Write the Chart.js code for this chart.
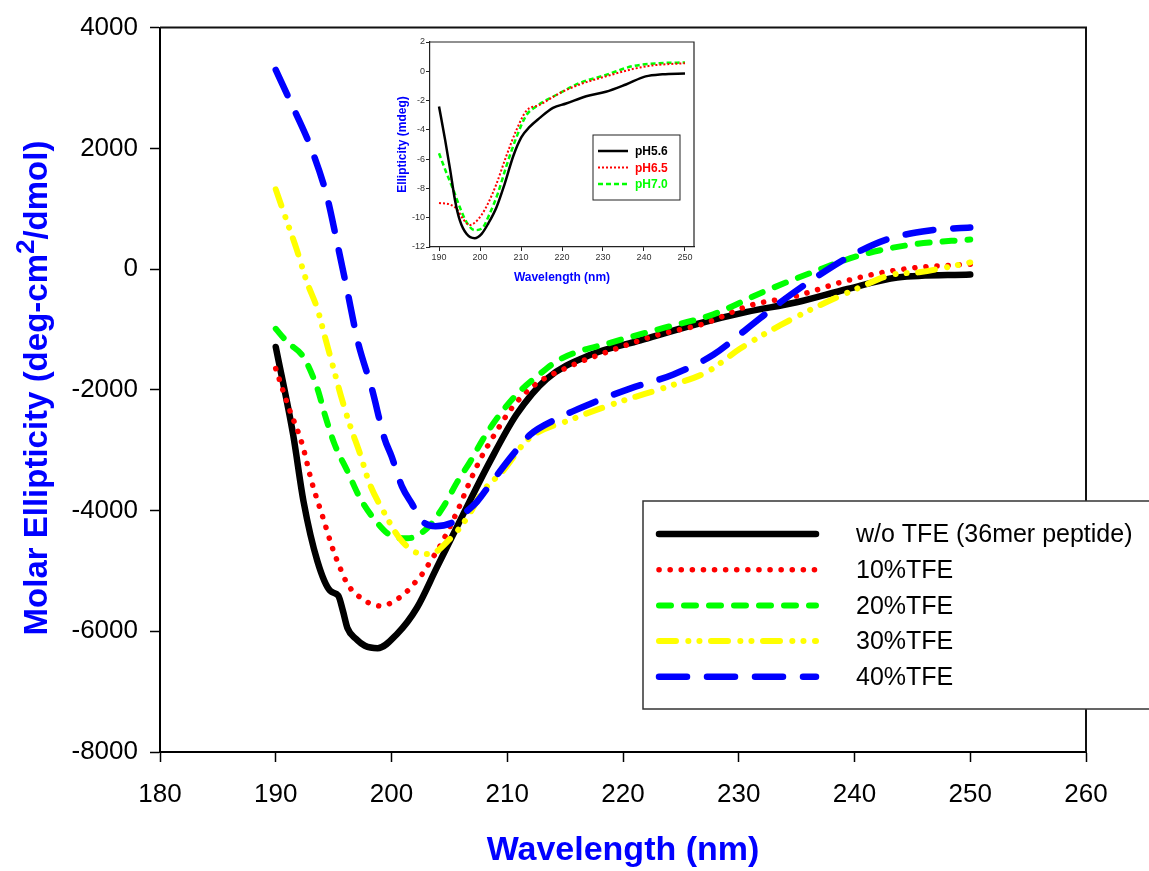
<!DOCTYPE html>
<html>
<head>
<meta charset="utf-8">
<title>CD spectra</title>
<script src="https://cdn.jsdelivr.net/npm/chart.js@4.4.1/dist/chart.umd.min.js"></script>
<style>
  html, body { margin: 0; padding: 0; background: #fff; }
  #wrap { position: relative; width: 1149px; height: 871px; }
  #main { position: absolute; left: 0; top: 0; }
  #inset { position: absolute; left: 385px; top: 30px; background: #fff; }
</style>
</head>
<body>
<div id="wrap">
  <canvas id="main" width="1149" height="871"></canvas>
  <canvas id="inset" width="315" height="262"></canvas>
</div>
<script>
// main plot: molar ellipticity vs wavelength
const seriesLabels = ['w/o TFE (36mer peptide)', '10%TFE', '20%TFE', '30%TFE', '40%TFE'];

const wlNoTfe = [190, 191.5, 192.4, 193.6, 194.7, 195.4, 195.8, 196.2, 196.9, 197.7, 198.8, 200.5, 202.2, 203.9, 206.2, 208.5, 210.8, 213.4, 217.2, 221.5, 226.4, 230.7, 235.0, 239.4, 243.7, 250];
const molNoTfe = [-1290, -2740, -3850, -4840, -5330, -5410, -5660, -5950, -6120, -6240, -6280, -6040, -5610, -4950, -4060, -3190, -2410, -1820, -1420, -1180, -910, -710, -550, -330, -140, -90];

const wl10 = [190, 191.1, 192.3, 193.1, 194.1, 194.9, 195.6, 196.2, 197.1, 199.0, 201.0, 201.9, 202.7, 203.5, 204.1, 205.8, 206.7, 207.7, 209.0, 210.4, 212.3, 215.3, 219.1, 223.0, 226.9, 231.0, 234.9, 238.8, 242.6, 245.7, 250];
const mol10 = [-1650, -2280, -2910, -3520, -4130, -4620, -4970, -5220, -5410, -5580, -5400, -5220, -5040, -4800, -4620, -3960, -3550, -3140, -2710, -2300, -1930, -1620, -1340, -1090, -910, -600, -450, -220, -50, 30, 80];

const wl20 = [190, 191.0, 192.4, 193.6, 194.3, 195.1, 196.2, 197.3, 198.8, 200.1, 201.4, 203.1, 204.5, 205.7, 206.8, 207.9, 209.2, 210.8, 212.8, 214.6, 219.1, 223.2, 227.8, 232.1, 236.4, 240.7, 245.1, 250];
const mol20 = [-990, -1210, -1460, -1980, -2450, -2910, -3350, -3800, -4210, -4430, -4460, -4290, -3930, -3520, -3190, -2820, -2450, -2080, -1740, -1490, -1210, -990, -750, -380, -50, 240, 410, 490];

const wl30 = [190, 191.0, 191.8, 192.7, 193.6, 194.3, 195.0, 195.6, 196.4, 197.3, 198.1, 199.3, 200.7, 202.2, 203.3, 205.1, 206.5, 207.9, 209.6, 211.8, 215.7, 219.7, 224.3, 227.3, 230.1, 233.6, 237.0, 240.5, 243.1, 245.7, 248.0, 250];
const mol30 = [1320, 770, 330, -220, -660, -1160, -1650, -2080, -2580, -3070, -3550, -4010, -4460, -4700, -4720, -4460, -4130, -3680, -3350, -2820, -2480, -2200, -1920, -1700, -1320, -930, -600, -300, -100, -50, 30, 110];

const wl40 = [190, 191.2, 193.1, 194.4, 195.3, 196.2, 197.1, 198.3, 199.4, 200.0, 200.9, 201.8, 202.7, 203.8, 205.1, 206.2, 207.4, 208.5, 210.5, 212.0, 214.3, 217.2, 220.6, 224.3, 227.8, 230.7, 233.6, 236.4, 239.4, 242.8, 246.5, 250];
const mol40 = [3300, 2800, 1980, 1220, 440, -380, -1210, -1980, -2810, -3100, -3600, -3900, -4180, -4260, -4210, -4060, -3850, -3570, -3070, -2740, -2480, -2230, -1980, -1750, -1420, -990, -550, -170, 190, 490, 640, 690];

const xTicksMain = [180, 190, 200, 210, 220, 230, 240, 250, 260];
const yTicksMain = [-8000, -6000, -4000, -2000, 0, 2000, 4000];

// inset: ellipticity (mdeg) at three pH values
const insetLabels = ['pH5.6', 'pH6.5', 'pH7.0'];

const wlPh56 = [190, 191.5, 192.7, 193.9, 195.1, 196.7, 198.7, 200.4, 202.0, 204.0, 206.0, 208.1, 210.1, 212.1, 214.5, 217.8, 221.0, 225.9, 230.7, 235.6, 240.4, 244.5, 250];
const mdegPh56 = [-2.4, -4.7, -6.7, -8.8, -10.2, -11.1, -11.4, -11.1, -10.4, -9.3, -7.7, -5.8, -4.5, -3.8, -3.2, -2.5, -2.2, -1.7, -1.4, -0.9, -0.35, -0.2, -0.15];

const wlPh65 = [190, 192.7, 194.3, 195.9, 197.5, 198.7, 200.4, 202.0, 204.0, 206.4, 208.9, 211.3, 214.5, 219.4, 224.3, 230.7, 237.2, 242.1, 250];
const mdegPh65 = [-9.0, -9.1, -9.4, -10.1, -10.5, -10.35, -9.8, -9.0, -7.7, -5.8, -4.0, -2.7, -2.3, -1.5, -0.9, -0.35, 0.15, 0.4, 0.55];

const wlPh70 = [190, 191.9, 193.5, 195.1, 196.7, 198.7, 200.4, 202.4, 204.4, 206.4, 208.9, 211.3, 213.7, 219.4, 224.3, 230.7, 237.2, 243.7, 250];
const mdegPh70 = [-5.6, -7.0, -8.1, -9.3, -10.3, -10.85, -10.75, -9.7, -8.3, -6.5, -4.5, -3.0, -2.4, -1.5, -0.8, -0.25, 0.35, 0.55, 0.6];

const xTicksInset = [190, 200, 210, 220, 230, 240, 250];
const yTicksInset = [-12, -10, -8, -6, -4, -2, 0, 2];

const FONT = '"Liberation Sans", Arial, Helvetica, sans-serif';

function toPoints(xs, ys) {
    return xs.map((x, i) => ({ x: x, y: ys[i] }));
}

// box round the plotting area (top and right sides, left/bottom are the axes)
const plotFrame = {
    id: 'plotFrame',
    afterDatasetsDraw(chart, args, opts) {
        const { ctx, chartArea } = chart;
        ctx.save();
        ctx.strokeStyle = opts.color;
        ctx.lineWidth = opts.width;
        ctx.beginPath();
        ctx.moveTo(chartArea.left, chartArea.top);
        ctx.lineTo(chartArea.right, chartArea.top);
        ctx.lineTo(chartArea.right, chartArea.bottom);
        ctx.stroke();
        ctx.restore();
    }
};

// legend drawn inside a framed box, samples taken from the datasets
const boxLegend = {
    id: 'boxLegend',
    afterDraw(chart, args, opts) {
        const ctx = chart.ctx;
        ctx.save();
        ctx.fillStyle = '#fff';
        ctx.fillRect(opts.left, opts.top, opts.width, opts.height);
        ctx.strokeStyle = opts.borderColor;
        ctx.lineWidth = opts.borderWidth;
        ctx.strokeRect(opts.left, opts.top, opts.width, opts.height);

        chart.data.datasets.forEach((ds, i) => {
            const y = opts.rowTop + i * opts.rowStep;
            ctx.beginPath();
            ctx.setLineDash(ds.borderDash || []);
            ctx.lineWidth = ds.borderWidth;
            ctx.lineCap = ds.borderCapStyle || 'butt';
            ctx.strokeStyle = ds.borderColor;
            ctx.moveTo(opts.lineFrom, y);
            ctx.lineTo(opts.lineTo, y);
            ctx.stroke();
            ctx.setLineDash([]);
            ctx.font = opts.font;
            ctx.textBaseline = 'middle';
            ctx.fillStyle = opts.colouredText ? ds.borderColor : '#000';
            ctx.fillText(ds.label, opts.textX, y + opts.textShift);
        });
        ctx.restore();
    }
};

// y title with a raised "2"
const yTitle = {
    id: 'yTitle',
    afterDraw(chart) {
        const ctx = chart.ctx;
        const parts = ['Molar Ellipticity (deg-cm', '2', '/dmol)'];
        const big = 'bold 33px ' + FONT;
        const small = 'bold 26px ' + FONT;
        ctx.save();
        ctx.translate(38, 388);
        ctx.rotate(-Math.PI / 2);
        ctx.fillStyle = '#0000ff';
        ctx.textBaseline = 'middle';
        ctx.font = big;
        const w1 = ctx.measureText(parts[0]).width;
        const w3 = ctx.measureText(parts[2]).width;
        ctx.font = small;
        const w2 = ctx.measureText(parts[1]).width;
        let x = -(w1 + w2 + w3) / 2;
        ctx.font = big;
        ctx.fillText(parts[0], x, 0);
        x += w1;
        ctx.font = small;
        ctx.fillText(parts[1], x, -11);
        x += w2;
        ctx.font = big;
        ctx.fillText(parts[2], x, 0);
        ctx.restore();
    }
};

function mainDataset(label, xs, ys, color, width, dash, order) {
    return {
        label: label,
        data: toPoints(xs, ys),
        borderColor: color,
        backgroundColor: color,
        borderWidth: width,
        borderDash: dash,
        borderCapStyle: 'round',
        borderJoinStyle: 'round',
        pointRadius: 0,
        fill: false,
        cubicInterpolationMode: 'monotone',
        order: order
    };
}

new Chart(document.getElementById('main').getContext('2d'), {
    type: 'line',
    data: {
        datasets: [
            mainDataset(seriesLabels[0], wlNoTfe, molNoTfe, '#000000', 6.5, [], 5),
            mainDataset(seriesLabels[1], wl10, mol10, '#ff0000', 5.5, [0.1, 11], 4),
            mainDataset(seriesLabels[2], wl20, mol20, '#00ff00', 6, [12, 13], 3),
            mainDataset(seriesLabels[3], wl30, mol30, '#ffff00', 6, [17, 12.3, 0.1, 11, 0.1, 11.5], 2),
            mainDataset(seriesLabels[4], wl40, mol40, '#0000ff', 6.5, [28, 20], 1)
        ]
    },
    options: {
        responsive: false,
        animation: false,
        layout: { padding: { left: 0, top: 24, right: 63, bottom: 0 } },
        plugins: {
            legend: { display: false },
            tooltip: { enabled: false },
            plotFrame: { color: '#111', width: 2 },
            boxLegend: {
                left: 643, top: 501, width: 520, height: 208,
                borderColor: '#333', borderWidth: 1.5,
                rowTop: 534, rowStep: 35.7,
                lineFrom: 659, lineTo: 816, textX: 856, textShift: 1.5,
                font: '25px ' + FONT, colouredText: false
            }
        },
        scales: {
            x: {
                type: 'linear',
                min: 180,
                max: 260,
                afterBuildTicks: s => { s.ticks = xTicksMain.map(v => ({ value: v })); },
                afterFit: s => { s.height = 119; },
                grid: { display: true, drawOnChartArea: false, drawTicks: true, tickLength: 10, tickColor: '#000', tickWidth: 1.5 },
                border: { display: true, color: '#000', width: 2 },
                ticks: { color: '#000', font: { family: FONT, size: 26 }, padding: 17, maxRotation: 0, callback: v => String(v) },
                title: { display: true, text: 'Wavelength (nm)', color: '#0000ff', font: { family: FONT, size: 34, weight: 'bold' }, padding: 0 }
            },
            y: {
                type: 'linear',
                min: -8000,
                max: 4000,
                afterBuildTicks: s => { s.ticks = yTicksMain.map(v => ({ value: v })); },
                afterFit: s => { s.width = 160; },
                grid: { display: true, drawOnChartArea: false, drawTicks: true, tickLength: 10, tickColor: '#000', tickWidth: 1.5 },
                border: { display: true, color: '#000', width: 2 },
                ticks: { color: '#000', font: { family: FONT, size: 26 }, padding: 12, callback: v => String(v) },
                title: { display: false }
            }
        }
    },
    plugins: [plotFrame, yTitle, boxLegend]
});

function insetDataset(label, xs, ys, color, width, dash) {
    return {
        label: label,
        data: toPoints(xs, ys),
        borderColor: color,
        backgroundColor: color,
        borderWidth: width,
        borderDash: dash,
        borderCapStyle: 'butt',
        pointRadius: 0,
        fill: false,
        cubicInterpolationMode: 'monotone'
    };
}

new Chart(document.getElementById('inset').getContext('2d'), {
    type: 'line',
    data: {
        datasets: [
            insetDataset(insetLabels[0], wlPh56, mdegPh56, '#000000', 2.5, []),
            insetDataset(insetLabels[1], wlPh65, mdegPh65, '#ff0000', 2, [2, 2]),
            insetDataset(insetLabels[2], wlPh70, mdegPh70, '#00ff00', 2.5, [5, 3])
        ]
    },
    options: {
        responsive: false,
        animation: false,
        layout: { padding: { left: 0, top: 12, right: 6, bottom: 0 } },
        plugins: {
            legend: { display: false },
            tooltip: { enabled: false },
            plotFrame: { color: '#222', width: 1.2 },
            boxLegend: {
                left: 208, top: 105, width: 87, height: 65,
                borderColor: '#222', borderWidth: 1,
                rowTop: 121, rowStep: 16.5,
                lineFrom: 213, lineTo: 243, textX: 250, textShift: 1,
                font: 'bold 12px ' + FONT, colouredText: true
            }
        },
        scales: {
            x: {
                type: 'linear',
                min: 187.8,
                max: 252.2,
                afterBuildTicks: s => { s.ticks = xTicksInset.map(v => ({ value: v })); },
                afterFit: s => { s.height = 45; },
                grid: { display: true, drawOnChartArea: false, drawTicks: true, tickLength: 4, tickColor: '#222', tickWidth: 1 },
                border: { display: true, color: '#222', width: 1.2 },
                ticks: { color: '#333', font: { family: FONT, size: 9 }, padding: 1, maxRotation: 0, callback: v => String(v) },
                title: { display: true, text: 'Wavelength (nm)', color: '#0000ff', font: { family: FONT, size: 12, weight: 'bold' }, padding: { top: 0, bottom: 7 } }
            },
            y: {
                type: 'linear',
                min: -12,
                max: 2,
                afterBuildTicks: s => { s.ticks = yTicksInset.map(v => ({ value: v })); },
                afterFit: s => { s.width = 45; },
                grid: { display: true, drawOnChartArea: false, drawTicks: true, tickLength: 4, tickColor: '#222', tickWidth: 1 },
                border: { display: true, color: '#222', width: 1.2 },
                ticks: { color: '#333', font: { family: FONT, size: 9 }, padding: 1, callback: v => String(v) },
                title: { display: true, text: 'Ellipticity (mdeg)', color: '#0000ff', font: { family: FONT, size: 12, weight: 'bold' }, padding: { top: 10, bottom: 0 } }
            }
        }
    },
    plugins: [plotFrame, boxLegend]
});
</script>
</body>
</html>
